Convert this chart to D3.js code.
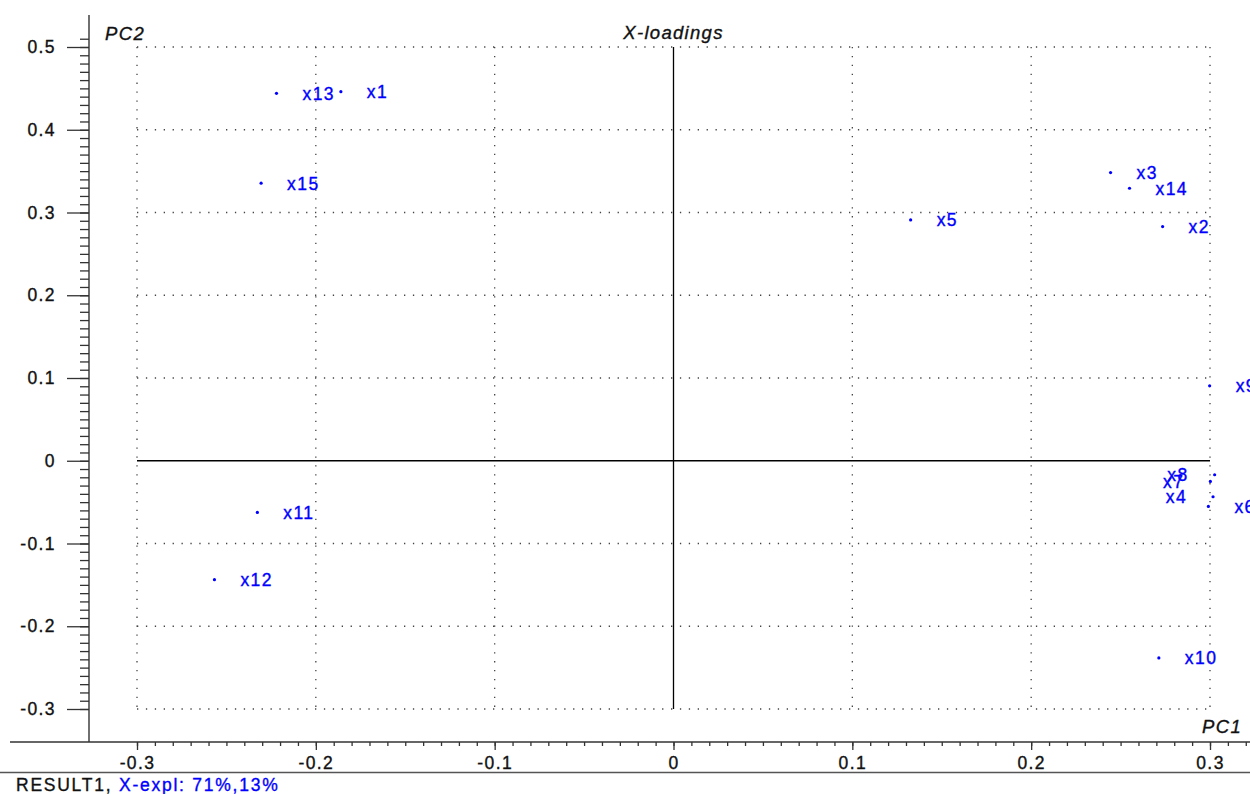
<!DOCTYPE html>
<html>
<head>
<meta charset="utf-8">
<script src="https://cdn.jsdelivr.net/npm/d3@7"></script>
<style>
  html, body { margin: 0; padding: 0; background: #fff; }
  svg { display: block; }
  text { font-family: "Liberation Sans", Arial, sans-serif; }
</style>
</head>
<body>
<svg id="chart" width="1250" height="794"></svg>
<script>
// PCA X-loadings, PC1 vs PC2
const variables = ["x1","x2","x3","x4","x5","x6","x7","x8","x9","x10","x11","x12","x13","x14","x15"];
const pc1 = [-0.186, 0.2735, 0.2444, 0.3017, 0.1326, 0.2991, 0.3002, 0.3026, 0.2998, 0.2714, -0.2327, -0.2567, -0.222, 0.255, -0.2306];
const pc2 = [0.446, 0.283, 0.3482, -0.0435, 0.291, -0.0552, -0.025, -0.0169, 0.0906, -0.2383, -0.0624, -0.1437, 0.444, 0.3293, 0.3354];

const xTicks = [-0.3, -0.2, -0.1, 0, 0.1, 0.2, 0.3];
const yTicks = [-0.3, -0.2, -0.1, 0, 0.1, 0.2, 0.3, 0.4, 0.5];
const xGrid = [-0.3, -0.2, -0.1, 0.1, 0.2, 0.3];
const yGrid = [-0.3, -0.2, -0.1, 0.1, 0.2, 0.3, 0.4, 0.5];

// labels drawn to the left of their point (crowded cluster near PC1 = 0.3)
const leftLabelled = ["x8", "x7", "x4"];

const points = variables.map((name, i) => ({ name, x: pc1[i], y: pc2[i] }));

const svg = d3.select("#chart");
const W = 1250;

const x = d3.scaleLinear().domain([-0.3, 0.3]).range([137, 1210]);
const y = d3.scaleLinear().domain([-0.3, 0.5]).range([709, 47]);

const axisX = 89;     // position of the vertical axis line
const axisY = 742;    // position of the horizontal axis line
const blue = "#0000ff";
const ink = "#111";
const fmt = d => d === 0 ? "0" : d.toFixed(1);

// slightly heavier glyphs
function heavy(sel, color) {
  return sel.attr("fill", color).attr("stroke", color).attr("stroke-width", 0.35);
}

// dotted grid
const grid = svg.append("g").attr("stroke", "#444").attr("stroke-width", 1.3)
  .attr("stroke-dasharray", "1.3,7.6").attr("fill", "none");
grid.selectAll("line.v").data(xGrid).join("line")
  .attr("x1", d => x(d)).attr("x2", d => x(d))
  .attr("y1", y(0.5)).attr("y2", y(-0.3));
grid.selectAll("line.h").data(yGrid).join("line")
  .attr("x1", x(-0.3)).attr("x2", x(0.3))
  .attr("y1", d => y(d)).attr("y2", d => y(d));

// zero lines
svg.append("line").attr("x1", x(-0.3)).attr("x2", x(0.3))
  .attr("y1", y(0)).attr("y2", y(0)).attr("stroke", "#000").attr("stroke-width", 1.3);
svg.append("line").attr("x1", x(0)).attr("x2", x(0))
  .attr("y1", y(0.5)).attr("y2", y(-0.3)).attr("stroke", "#000").attr("stroke-width", 1.3);

// vertical axis
const yMinor = d3.range(-30, 52).map(v => v / 100);
const yAxisMinor = d3.axisLeft(y).tickValues(yMinor).tickSize(9).tickFormat("");
const yAxisMajor = d3.axisLeft(y).tickValues(yTicks).tickSize(22).tickPadding(11).tickFormat(fmt);
const gyMinor = svg.append("g").attr("transform", `translate(${axisX},0)`).call(yAxisMinor);
const gyMajor = svg.append("g").attr("transform", `translate(${axisX},0)`).call(yAxisMajor);
[gyMinor, gyMajor].forEach(g => {
  g.select(".domain").remove();
  g.selectAll("line").attr("stroke", "#333").attr("stroke-width", 1.3);
});
heavy(gyMajor.selectAll("text"), ink).attr("font-size", 17.5)
  .attr("letter-spacing", 1.4).attr("font-family", "Liberation Sans, Arial, sans-serif");
svg.append("line").attr("x1", axisX).attr("x2", axisX).attr("y1", 15).attr("y2", axisY)
  .attr("stroke", "#333").attr("stroke-width", 1.4);

// horizontal axis
const xMinor = d3.range(-30, 33).map(v => v / 100);
const xAxisMinor = d3.axisBottom(x).tickValues(xMinor).tickSize(4).tickFormat("");
const xAxisMajor = d3.axisBottom(x).tickValues(xTicks).tickSize(8).tickPadding(7).tickFormat(fmt);
const gxMinor = svg.append("g").attr("transform", `translate(0,${axisY})`).call(xAxisMinor);
const gxMajor = svg.append("g").attr("transform", `translate(0,${axisY})`).call(xAxisMajor);
[gxMinor, gxMajor].forEach(g => {
  g.select(".domain").remove();
  g.selectAll("line").attr("stroke", "#333").attr("stroke-width", 1.3);
});
heavy(gxMajor.selectAll("text"), ink).attr("font-size", 17.5)
  .attr("letter-spacing", 1.4).attr("font-family", "Liberation Sans, Arial, sans-serif");
svg.append("line").attr("x1", 10).attr("x2", W).attr("y1", axisY).attr("y2", axisY)
  .attr("stroke", "#333").attr("stroke-width", 1.4);

// status bar separator
svg.append("line").attr("x1", 0).attr("x2", W).attr("y1", 772.5).attr("y2", 772.5)
  .attr("stroke", "#555").attr("stroke-width", 1.4);

// titles
heavy(svg.append("text"), ink).attr("x", x(0)).attr("y", 39).attr("text-anchor", "middle")
  .attr("font-style", "italic").attr("font-size", 18.5).attr("letter-spacing", 1.3)
  .text("X-loadings");
heavy(svg.append("text"), ink).attr("x", 105).attr("y", 40)
  .attr("font-style", "italic").attr("font-size", 18.5).attr("letter-spacing", 1.4)
  .text("PC2");
heavy(svg.append("text"), ink).attr("x", 1202).attr("y", 733)
  .attr("font-style", "italic").attr("font-size", 18.5).attr("letter-spacing", 1.4)
  .text("PC1");

// status line
const status = svg.append("text").attr("x", 16).attr("y", 791)
  .attr("font-size", 17.5).attr("letter-spacing", 1.75);
heavy(status.append("tspan"), ink).text("RESULT1, ");
heavy(status.append("tspan"), blue).text("X-expl: 71%,13%");

// loading points
const pts = svg.append("g");
pts.selectAll("circle").data(points).join("circle")
  .attr("cx", d => x(d.x)).attr("cy", d => y(d.y)).attr("r", 1.6).attr("fill", blue);

heavy(pts.selectAll("text").data(points).join("text"), blue)
  .attr("x", d => leftLabelled.includes(d.name) ? x(d.x) - 26 : x(d.x) + 26)
  .attr("y", d => y(d.y))
  .attr("dy", "0.36em")
  .attr("text-anchor", d => leftLabelled.includes(d.name) ? "end" : "start")
  .attr("font-size", 17.5).attr("letter-spacing", 1.4)
  .text(d => d.name);
</script>
</body>
</html>
